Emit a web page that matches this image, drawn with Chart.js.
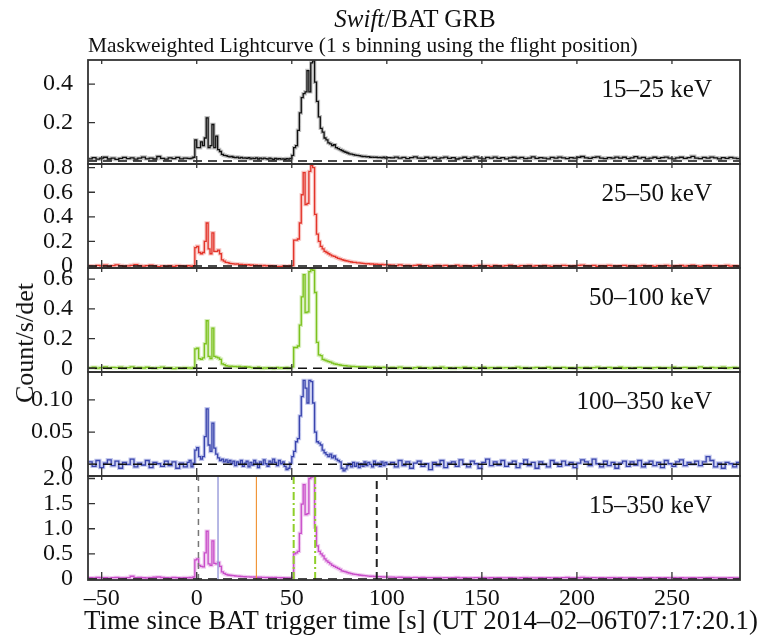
<!DOCTYPE html>
<html>
<head>
<meta charset="utf-8">
<script src="https://cdn.jsdelivr.net/npm/chart.js@4.4.1/dist/chart.umd.min.js"></script>
<style>
html,body{margin:0;padding:0;background:#fff;}
#wrap{position:relative;width:760px;height:636px;font-family:"Liberation Serif","Times New Roman",serif;color:#111;}
#c{position:absolute;left:0;top:0;}
.t{position:absolute;white-space:nowrap;line-height:1;}
#title{left:415px;top:6px;font-size:25px;transform:translateX(-50%);}
#sub{left:88px;top:35px;font-size:21px;transform:scaleX(1.02);transform-origin:left center;}
#ytitle{left:25px;top:343px;font-size:26px;transform:translate(-50%,-50%) rotate(-90deg);}
#xtitle{left:421px;top:607px;font-size:26.8px;transform:translateX(-50%);}
</style>
</head>
<body>
<div id="wrap">
<canvas id="c" width="760" height="636"></canvas>
<div class="t" id="title"><i>Swift</i>/BAT GRB</div>
<div class="t" id="sub">Maskweighted Lightcurve (1 s binning using the flight position)</div>
<div class="t" id="ytitle">Count/s/det</div>
<div class="t" id="xtitle">Time since BAT trigger time [s] (UT 2014–02–06T07:17:20.1)</div>
</div>
<script>

// time bins [s]: 2 s steps away from the bursts, 1 s steps around them
const timePre = [-57,-55,-53,-51,-49,-47,-45,-43,-41,-39,
  -37,-35,-33,-31,-29,-27,-25,-23,-21,-19,
  -17,-15,-13,-11,-9,-7,-5];
const timeMid = [-4,-3,-2,-1,0,1,2,3,4,5,
  6,7,8,9,10,11,12,13,14,15,
  16,17,18,19,20,21,22,23,24,25,
  26,27,28,29,30,31,32,33,34,35,
  36,37,38,39,40,41,42,43,44,45,
  46,47,48,49,50,51,52,53,54,55,
  56,57,58,59,60,61,62,63,64,65,
  66,67,68,69,70,71,72,73,74,75,
  76,77,78,79,80,81,82,83,84,85,
  86,87,88,89,90,91,92,93,94,95,
  96,97,98,99,100];
const timePost = [102,104,106,108,110,112,114,116,118,120,
  122,124,126,128,130,132,134,136,138,140,
  142,144,146,148,150,152,154,156,158,160,
  162,164,166,168,170,172,174,176,178,180,
  182,184,186,188,190,192,194,196,198,200,
  202,204,206,208,210,212,214,216,218,220,
  222,224,226,228,230,232,234,236,238,240,
  242,244,246,248,250,252,254,256,258,260,
  262,264,266,268,270,272,274,276,278,280,
  282,284,286];

// 15-25 keV
const softPre = [0.012,0.018,0.010,0.015,0.020,0.011,0.016,0.009,0.014,0.019,
  0.013,0.017,0.010,0.015,0.021,0.012,0.016,0.011,0.024,0.014,
  0.010,0.017,0.013,0.019,0.012,0.016,0.014];
const softMid = [0.013,0.016,0.020,0.11,0.07,0.07,0.10,0.08,0.12,0.225,
  0.07,0.08,0.19,0.07,0.13,0.06,0.05,0.035,0.03,0.028,
  0.025,0.022,0.024,0.02,0.018,0.021,0.016,0.019,0.015,0.017,
  0.014,0.018,0.012,0.016,0.013,0.017,0.011,0.015,0.012,0.016,
  0.013,0.010,0.015,0.012,0.009,0.014,0.011,0.013,0.010,0.012,
  0.009,0.013,0.010,0.014,0.03,0.07,0.08,0.16,0.25,0.33,
  0.35,0.36,0.47,0.36,0.51,0.52,0.41,0.31,0.23,0.17,
  0.15,0.12,0.11,0.095,0.09,0.08,0.085,0.07,0.065,0.06,
  0.055,0.05,0.046,0.042,0.038,0.036,0.034,0.031,0.03,0.028,
  0.026,0.024,0.025,0.022,0.023,0.02,0.021,0.019,0.02,0.018,
  0.019,0.017,0.02,0.016,0.018];
const softPost = [0.017,0.021,0.015,0.019,0.013,0.018,0.022,0.016,0.014,0.02,
  0.015,0.019,0.012,0.017,0.021,0.014,0.018,0.011,0.016,0.02,
  0.013,0.017,0.022,0.015,0.012,0.019,0.016,0.021,0.014,0.018,
  0.012,0.017,0.02,0.015,0.019,0.013,0.016,0.022,0.014,0.018,
  0.016,0.012,0.019,0.015,0.021,0.017,0.013,0.018,0.015,0.02,
  0.024,0.017,0.014,0.019,0.022,0.016,0.013,0.018,0.015,0.021,
  0.016,0.02,0.013,0.017,0.023,0.015,0.019,0.012,0.016,0.02,
  0.014,0.018,0.021,0.015,0.012,0.017,0.02,0.014,0.018,0.025,
  0.016,0.013,0.019,0.015,0.021,0.017,0.012,0.018,0.014,0.019,
  0.016,0.013,0.017];

// 25-50 keV
const midPre = [0.002,-0.004,0.005,0.001,0.008,-0.002,0.003,0.010,0.004,-0.003,
  0.002,0.006,0.012,0.004,-0.001,0.003,0.007,0.002,-0.005,0.001,
  -0.006,0.002,-0.003,0.004,0.001,-0.004,0.003];
const midMid = [0.001,-0.002,0.004,0.15,0.16,0.11,0.10,0.11,0.20,0.35,
  0.14,0.10,0.27,0.12,0.12,0.13,0.10,0.05,0.04,0.03,
  0.028,0.022,0.02,0.018,0.015,0.017,0.012,0.014,0.01,0.012,
  0.008,0.011,0.006,0.009,0.004,0.007,0.003,0.006,0.002,0.005,
  0.001,0.004,-0.002,0.003,-0.005,0.0,-0.006,-0.002,-0.005,0.001,
  -0.004,-0.001,-0.006,0.002,0.004,0.21,0.21,0.22,0.35,0.58,
  0.76,0.50,0.51,0.77,0.82,0.80,0.42,0.26,0.20,0.16,
  0.14,0.12,0.11,0.10,0.09,0.082,0.078,0.07,0.063,0.058,
  0.052,0.047,0.043,0.04,0.036,0.033,0.03,0.029,0.026,0.025,
  0.023,0.021,0.02,0.018,0.019,0.016,0.017,0.014,0.015,0.013,
  0.012,0.014,0.01,0.011,0.009];
const midPost = [0.008,0.004,0.010,0.003,0.006,0.001,0.005,0.009,0.002,0.004,
  -0.002,0.003,0.006,0.001,0.005,-0.003,0.002,0.007,0.0,0.004,
  0.001,-0.004,0.003,0.006,0.0,0.004,-0.002,0.005,0.002,-0.001,
  0.003,0.007,0.001,-0.003,0.004,0.002,0.006,-0.001,0.003,0.0,
  0.005,0.002,-0.002,0.004,0.001,0.006,0.003,-0.003,0.002,0.005,
  0.008,0.003,0.001,0.005,-0.002,0.004,0.0,0.006,0.002,-0.001,
  0.003,0.005,0.0,0.004,-0.003,0.002,0.006,0.001,0.003,-0.002,
  0.004,0.001,0.006,0.002,-0.001,0.003,0.005,0.0,0.004,0.007,
  0.002,-0.002,0.003,0.005,0.001,0.004,-0.001,0.002,0.006,0.0,
  0.003,-0.001,0.002];

// 50-100 keV
const hardPre = [0.003,0.007,0.001,0.005,0.009,0.002,0.006,0.004,0.008,0.001,
  0.005,0.010,0.003,0.006,0.002,0.007,0.004,0.0,0.005,0.008,
  0.002,0.004,-0.002,0.003,0.001,0.005,0.002];
const hardMid = [0.003,0.0,0.006,0.13,0.135,0.065,0.06,0.07,0.165,0.32,
  0.08,0.065,0.27,0.08,0.075,0.07,0.06,0.03,0.025,0.017,
  0.015,0.013,0.014,0.011,0.012,0.009,0.013,0.01,0.008,0.011,
  0.007,0.009,0.006,0.003,0.005,0.002,0.007,0.004,-0.001,0.003,
  0.001,0.005,0.0,0.004,-0.002,0.002,0.006,0.001,0.004,0.0,
  0.003,0.006,-0.001,0.002,0.01,0.14,0.14,0.15,0.29,0.48,
  0.63,0.375,0.38,0.65,0.665,0.66,0.51,0.175,0.09,0.085,
  0.06,0.055,0.05,0.045,0.042,0.035,0.03,0.027,0.025,0.022,
  0.02,0.018,0.017,0.015,0.014,0.012,0.013,0.011,0.01,0.011,
  0.009,0.01,0.008,0.009,0.007,0.008,0.006,0.009,0.005,0.007,
  0.006,0.004,0.007,0.005,0.003];
const hardPost = [0.006,0.003,0.008,0.002,0.005,0.0,0.004,0.007,0.003,0.005,
  0.001,0.006,0.003,0.008,0.002,0.004,-0.001,0.005,0.003,0.007,
  0.002,0.005,0.0,0.004,0.007,0.002,0.005,0.001,0.006,0.003,
  0.005,0.001,0.004,0.008,0.002,0.005,0.0,0.003,0.006,0.002,
  0.004,0.007,0.001,0.005,0.003,0.006,0.002,0.004,0.0,0.005,
  0.003,0.006,0.002,0.005,0.008,0.001,0.004,0.006,0.002,0.004,
  0.007,0.002,0.005,0.0,0.004,0.006,0.003,0.005,0.001,0.004,
  0.006,0.002,0.005,0.003,0.007,0.001,0.004,0.006,0.002,0.005,
  0.003,0.009,0.004,0.002,0.006,0.003,0.005,0.008,0.002,0.004,
  0.006,0.003,0.005];

// 100-350 keV
const vhardPre = [0.004,-0.003,0.006,-0.005,0.002,0.007,-0.002,0.005,-0.006,0.003,
  0.0,0.008,-0.004,0.002,-0.001,0.006,-0.005,0.003,0.001,-0.003,
  0.005,-0.002,0.004,-0.006,0.002,-0.004,0.003];
const vhardMid = [0.006,-0.004,0.002,0.022,0.026,0.012,0.008,0.012,0.043,0.086,
  0.03,0.02,0.064,0.025,0.016,0.01,0.006,0.008,0.004,0.007,
  0.003,0.006,0.001,0.005,-0.002,0.004,0.0,0.006,-0.003,0.002,
  0.005,-0.004,0.003,-0.001,0.006,0.002,-0.005,0.004,0.0,0.007,
  0.001,-0.003,0.005,0.002,0.008,0.003,-0.002,0.006,0.001,0.004,
  -0.003,-0.008,-0.006,0.002,0.012,0.02,0.035,0.04,0.075,0.105,
  0.13,0.118,0.095,0.13,0.128,0.095,0.05,0.035,0.033,0.03,
  0.022,0.018,0.015,0.012,0.016,0.01,0.013,0.008,0.006,0.004,
  -0.006,-0.01,-0.007,-0.002,0.001,-0.004,0.003,-0.003,0.002,-0.005,
  0.001,-0.003,0.004,-0.002,0.003,0.0,-0.004,0.005,-0.001,0.002,
  -0.003,0.004,-0.002,0.003,0.0];
const vhardPost = [0.003,-0.004,0.006,-0.002,0.004,-0.006,0.002,0.005,-0.003,0.001,
  -0.008,0.003,-0.002,0.006,-0.005,0.002,0.004,-0.003,0.007,0.0,
  -0.004,0.005,0.001,-0.006,0.003,0.008,-0.002,0.004,-0.001,0.006,
  -0.003,0.002,0.005,-0.005,0.001,0.007,-0.002,0.003,-0.006,0.004,
  0.0,-0.004,0.006,0.002,-0.003,0.005,-0.001,0.003,-0.005,0.002,
  0.007,0.004,-0.002,0.008,0.001,-0.004,0.005,-0.002,0.003,-0.006,
  0.002,0.005,-0.003,0.004,-0.001,0.006,-0.004,0.002,0.005,-0.002,
  0.003,-0.005,0.006,0.001,-0.003,0.004,0.007,-0.002,0.003,0.0,
  0.005,-0.002,0.004,0.012,0.006,-0.004,0.002,-0.006,0.003,0.001,
  -0.004,0.003,-0.002];

// 15-350 keV
const totalPre = [0.025,0.02,0.03,0.022,0.028,0.018,0.026,0.03,0.024,0.02,
  0.028,0.055,0.026,0.03,0.025,0.02,0.029,0.035,0.04,0.03,
  0.026,0.022,0.03,0.025,0.02,0.028,0.024];
const totalMid = [0.03,0.022,0.04,0.38,0.40,0.27,0.25,0.24,0.52,0.95,
  0.30,0.27,0.76,0.31,0.30,0.33,0.25,0.14,0.11,0.09,
  0.08,0.075,0.07,0.066,0.06,0.058,0.055,0.05,0.048,0.045,
  0.044,0.042,0.04,0.038,0.04,0.036,0.035,0.037,0.033,0.032,
  0.03,0.032,0.029,0.031,0.027,0.03,0.026,0.028,0.025,0.027,
  0.024,0.02,0.018,0.023,0.03,0.50,0.52,0.55,0.91,1.49,
  1.88,1.28,1.30,2.00,2.03,2.04,1.03,0.66,0.55,0.50,
  0.46,0.40,0.36,0.33,0.30,0.27,0.25,0.23,0.21,0.19,
  0.16,0.15,0.14,0.125,0.115,0.105,0.095,0.09,0.085,0.08,
  0.075,0.07,0.066,0.062,0.058,0.055,0.056,0.05,0.048,0.046,
  0.046,0.044,0.04,0.042,0.038];
const totalPost = [0.036,0.033,0.035,0.03,0.032,0.028,0.031,0.027,0.03,0.026,
  0.028,0.025,0.029,0.024,0.027,0.022,0.026,0.03,0.023,0.027,
  0.024,0.021,0.026,0.023,0.028,0.02,0.025,0.022,0.027,0.024,
  0.021,0.026,0.023,0.019,0.025,0.028,0.022,0.024,0.02,0.026,
  0.023,0.027,0.021,0.025,0.022,0.026,0.03,0.024,0.02,0.025,
  0.034,0.029,0.024,0.027,0.022,0.026,0.021,0.025,0.028,0.023,
  0.026,0.021,0.024,0.027,0.022,0.025,0.02,0.024,0.027,0.022,
  0.025,0.021,0.026,0.023,0.028,0.022,0.025,0.02,0.024,0.027,
  0.022,0.026,0.021,0.025,0.029,0.023,0.02,0.024,0.022,0.026,
  0.023,0.02,0.025];

// T90 / T50 interval marks in the 15-350 keV panel [s]
const markTimes = [0.9, 11.2, 31.4, 51.0, 62.3, 94.7];

const bandNames = ["15–25 keV", "25–50 keV", "50–100 keV", "100–350 keV", "15–350 keV"];
const xTicks = [-50, 0, 50, 100, 150, 200, 250];
const yTicks = [
  [0.2, 0.4],
  [0, 0.2, 0.4, 0.6, 0.8],
  [0, 0.2, 0.4, 0.6],
  [0, 0.05, 0.10],
  [0, 0.5, 1.0, 1.5, 2.0]
];
const yTickLabels = [
  ["0.2", "0.4"],
  ["0", "0.2", "0.4", "0.6", "0.8"],
  ["0", "0.2", "0.4", "0.6"],
  ["0", "0.05", "0.10"],
  ["0", "0.5", "1.0", "1.5", "2.0"]
];
const yMin = [-0.015, -0.016, -0.025, -0.018, -0.02];
const yMax = [0.525, 0.83, 0.675, 0.143, 2.05];
const xMin = -57.2, xMax = 285.8;

const lineColors = ["#111111", "#e3352b", "#7cc21e", "#3a45ad", "#c94ec9"];
const haloColors = ["rgba(0,0,0,0.25)", "rgba(235,90,80,0.35)", "rgba(150,210,80,0.4)",
  "rgba(120,130,215,0.45)", "rgba(215,120,215,0.4)"];
const markColors = ["#777777", "#9ea0dc", "#f0963a", "#8fcf2a", "#8fcf2a", "#222222"];
const markDash = [[6, 5], [], [], [8, 3, 2, 3], [8, 3, 2, 3], [8, 5]];
const markWidth = [1.5, 1.5, 1.2, 2, 2, 2];

const time = timePre.concat(timeMid, timePost);
const series = [
  softPre.concat(softMid, softPost),
  midPre.concat(midMid, midPost),
  hardPre.concat(hardMid, hardPost),
  vhardPre.concat(vhardMid, vhardPost),
  totalPre.concat(totalMid, totalPost)
];
const axisIds = ["y1", "y2", "y3", "y4", "y5"];

function toPoints(vals){
  return vals.map((v, i) => ({x: time[i], y: v}));
}

const datasets = [];
series.forEach((vals, p) => {
  datasets.push({
    data: toPoints(vals), yAxisID: axisIds[p], stepped: true,
    borderColor: lineColors[p], borderWidth: 1.3, order: 1
  });
  datasets.push({
    data: toPoints(vals), yAxisID: axisIds[p], stepped: true,
    borderColor: haloColors[p], borderWidth: 3.5, order: 2
  });
});
markTimes.forEach((t, i) => {
  datasets.push({
    data: [{x: t, y: yMin[4]}, {x: t, y: yMax[4]}], yAxisID: "y5",
    borderColor: markColors[i], borderWidth: markWidth[i], borderDash: markDash[i], order: 0
  });
});

const serif = "'Liberation Serif', 'Times New Roman', serif";

const scales = {
  x: {
    type: "linear", position: "bottom", min: xMin, max: xMax,
    afterBuildTicks: s => { s.ticks = xTicks.map(v => ({value: v})); },
    afterFit: s => { s.height = 56; },
    grid: {display: false}, border: {display: false},
    ticks: {
      autoSkip: false, maxRotation: 0, padding: -4, color: "#111",
      font: {family: serif, size: 24},
      callback: v => v < 0 ? "–" + Math.abs(v) : String(v)
    }
  }
};
axisIds.forEach((id, p) => {
  scales[id] = {
    type: "linear", position: "left", stack: "lc", stackWeight: 1, weight: 5 - p,
    min: yMin[p], max: yMax[p],
    afterBuildTicks: s => { s.ticks = yTicks[p].map(v => ({value: v})); },
    afterFit: s => { s.width = 88; },
    grid: {display: false}, border: {display: false},
    ticks: {
      autoSkip: false, padding: 7, color: "#111",
      font: {family: serif, size: 24},
      callback: (v, i) => yTickLabels[p][i]
    }
  };
});

// panel frames, inward ticks, dashed zero level and band names
const panelFrames = {
  id: "panelFrames",
  afterDatasetsDraw(chart){
    const ctx = chart.ctx;
    const area = chart.chartArea;
    const xs = chart.scales.x;
    ctx.save();
    axisIds.forEach((id, p) => {
      const s = chart.scales[id];
      const y0 = s.getPixelForValue(0);
      ctx.strokeStyle = "#111";
      ctx.lineWidth = 1.5;
      ctx.setLineDash([9, 6]);
      ctx.beginPath();
      ctx.moveTo(area.left, y0);
      ctx.lineTo(area.right, y0);
      ctx.stroke();
      ctx.setLineDash([]);

      ctx.strokeStyle = "#333";
      ctx.lineWidth = 1.8;
      ctx.strokeRect(area.left, s.top, area.right - area.left, s.bottom - s.top);

      ctx.lineWidth = 1.3;
      ctx.beginPath();
      yTicks[p].forEach(v => {
        const py = s.getPixelForValue(v);
        ctx.moveTo(area.left, py);
        ctx.lineTo(area.left + 7, py);
      });
      xTicks.forEach(v => {
        const px = xs.getPixelForValue(v);
        ctx.moveTo(px, s.bottom);
        ctx.lineTo(px, s.bottom - 8);
        ctx.moveTo(px, s.top);
        ctx.lineTo(px, s.top + 4);
      });
      ctx.stroke();

      ctx.fillStyle = "#111";
      ctx.font = "25px " + serif;
      ctx.textAlign = "right";
      ctx.textBaseline = "middle";
      ctx.fillText(bandNames[p], area.right - 28, s.top + 30);
    });
    ctx.restore();
  }
};

new Chart(document.getElementById("c"), {
  type: "line",
  data: {datasets: datasets},
  options: {
    responsive: false,
    animation: false,
    layout: {padding: {top: 60, right: 20, left: 0, bottom: 0}},
    elements: {point: {radius: 0}, line: {tension: 0}},
    plugins: {legend: {display: false}, tooltip: {enabled: false}, title: {display: false}},
    scales: scales
  },
  plugins: [panelFrames]
});
</script>
</body>
</html>
